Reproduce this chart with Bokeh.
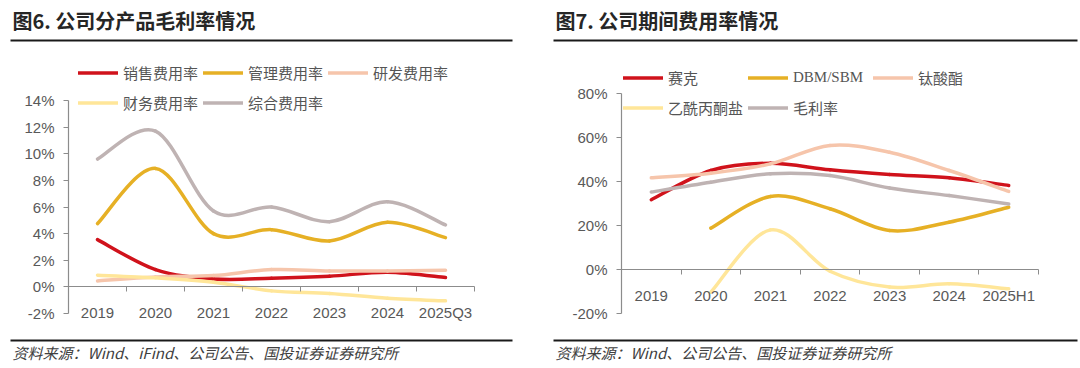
from bokeh.plotting import figure
from bokeh.models import (FixedTicker, Legend, LegendItem, Label, Arrow, ColumnDataSource,
                          Range1d, CustomJSTickFormatter)
from bokeh.layouts import row
from bokeh.embed import file_html
from bokeh.resources import INLINE

# ---------------- data ----------------
years_left = ["2019", "2020", "2021", "2022", "2023", "2024", "2025Q3"]
sales_rate = [3.55, 1.3, 0.6, 0.65, 0.8, 1.1, 0.7]
admin_rate = [4.75, 8.9, 4.0, 4.3, 3.45, 4.85, 3.7]
rnd_rate = [0.45, 0.75, 0.85, 1.3, 1.2, 1.2, 1.25]
fin_rate = [0.88, 0.68, 0.35, -0.3, -0.5, -0.85, -1.05]
total_rate = [9.6, 11.7, 5.7, 6.0, 4.9, 6.4, 4.65]
left_names = ["销售费用率", "管理费用率", "研发费用率", "财务费用率", "综合费用率"]
left_ticks = [-2, 0, 2, 4, 6, 8, 10, 12, 14]

years_right = ["2019", "2020", "2021", "2022", "2023", "2024", "2025H1"]
saike = [31.7, 45.0, 48.3, 45.3, 43.2, 41.7, 38.2]
dbm_sbm = [None, 18.8, 33.2, 27.6, 17.7, 21.5, 28.3]
titanate = [41.7, 43.8, 48.0, 56.4, 53.3, 45.0, 35.5]
acac = [None, -10.3, 18.0, -0.8, -8.0, -6.5, -8.8]
gross = [35.2, 39.7, 43.5, 42.7, 37.0, 33.6, 29.8]
right_names = ["赛克", "DBM/SBM", "钛酸酯", "乙酰丙酮盐", "毛利率"]
right_ticks = [-20, 0, 20, 40, 60, 80]

colors = ["#D0121B", "#E6B025", "#F6C5AB", "#FFE699", "#BFB3B3"]

W, H = 540, 368
AXIS_COLOR = "#8C8C8C"
TICK_FONT = "'Liberation Sans', Arial, sans-serif"
CJK = "'Noto Sans CJK SC', sans-serif"
LEGEND_FONT = "'Liberation Serif', 'Noto Sans CJK SC', serif"


def smooth(p, ys, color):
    pts = [(float(i), y) for i, y in enumerate(ys) if y is not None]
    n = len(pts)
    d = dict(x0=[], y0=[], x1=[], y1=[], cx0=[], cy0=[], cx1=[], cy1=[])
    for i in range(n - 1):
        p0 = pts[i - 1] if i > 0 else pts[i]
        p1 = pts[i]
        p2 = pts[i + 1]
        p3 = pts[i + 2] if i + 2 < n else pts[i + 1]
        d["x0"].append(p1[0]); d["y0"].append(p1[1])
        d["x1"].append(p2[0]); d["y1"].append(p2[1])
        d["cx0"].append(p1[0] + (p2[0] - p0[0]) / 6.0)
        d["cy0"].append(p1[1] + (p2[1] - p0[1]) / 6.0)
        d["cx1"].append(p2[0] - (p3[0] - p1[0]) / 6.0)
        d["cy1"].append(p2[1] - (p3[1] - p1[1]) / 6.0)
    return p.bezier("x0", "y0", "x1", "y1", "cx0", "cy0", "cx1", "cy1",
                    source=ColumnDataSource(d), line_color=color, line_width=3.5,
                    line_cap="round")


def pix_range(v0, p0, v1, p1, total):
    k = (v1 - v0) / (p1 - p0)
    return v0 - k * p0, v0 + k * (total - p0)


def make_panel(title, source, xlabels, series, names, ticks,
               frame_left, frame_right, frame_top, frame_bottom,
               legend_loc, rule_x0, rule_x1, text_x):
    n = len(xlabels)
    x0, x1 = pix_range(-0.5, frame_left, n - 0.5, frame_right, W)
    ymin, ymax = ticks[0], ticks[-1]
    ytop, ybot = pix_range(ymax, frame_top, ymin, frame_bottom, H)
    p = figure(width=W, height=H, output_backend="svg", toolbar_location=None,
               title_location=None,
               x_range=Range1d(x0, x1), y_range=Range1d(ybot, ytop))
    p.min_border = 0
    p.min_border_left = 0
    p.min_border_right = 0
    p.min_border_top = 0
    p.min_border_bottom = 0
    p.outline_line_color = None
    p.xgrid.visible = False
    p.ygrid.visible = False
    p.background_fill_color = "white"
    p.border_fill_color = "white"

    xa = p.xaxis[0]
    xa.ticker = FixedTicker(ticks=list(range(n)),
                            minor_ticks=[i - 0.5 for i in range(n + 1)])
    xa.formatter = CustomJSTickFormatter(args=dict(labels=xlabels),
                                         code="const i = Math.round(tick); return (i >= 0 && i < labels.length) ? labels[i] : '';")
    xa.fixed_location = 0
    xa.bounds = (-0.5, n - 0.5)
    xa.axis_line_color = AXIS_COLOR
    xa.axis_line_width = 1.2
    xa.major_tick_line_color = None
    xa.major_tick_out = 0
    xa.major_tick_in = 0
    xa.minor_tick_line_color = AXIS_COLOR
    xa.minor_tick_in = 0
    xa.minor_tick_out = 5
    xa.major_label_standoff = 12
    xa.major_label_text_font = TICK_FONT
    xa.major_label_text_font_size = "15px"
    xa.major_label_text_color = "#595959"

    ya = p.yaxis[0]
    ya.ticker = FixedTicker(ticks=ticks)
    ya.formatter = CustomJSTickFormatter(code="return tick.toFixed(0) + '%';")
    ya.fixed_location = -0.5
    ya.bounds = (ymin, ymax)
    ya.axis_line_color = AXIS_COLOR
    ya.axis_line_width = 1.2
    ya.major_tick_line_color = AXIS_COLOR
    ya.major_tick_in = 0
    ya.major_tick_out = 5
    ya.minor_tick_line_color = None
    ya.major_label_standoff = 9
    ya.major_label_text_font = TICK_FONT
    ya.major_label_text_font_size = "15px"
    ya.major_label_text_color = "#595959"

    rends = [smooth(p, ys, c) for ys, c in zip(series, colors)]

    legend = Legend(items=[LegendItem(label=nm, renderers=[r]) for nm, r in zip(names, rends)],
                    location=legend_loc, orientation="horizontal", ncols=3,
                    border_line_color=None, background_fill_alpha=0,
                    padding=0, margin=0, spacing=3,
                    glyph_width=40, glyph_height=27, label_height=27, label_width=77,
                    label_standoff=5, label_text_font=LEGEND_FONT,
                    label_text_font_size="15px", label_text_color="#555555")
    legend.click_policy = "none"
    p.add_layout(legend)

    # title, rules, source (screen units from canvas bottom-left)
    p.add_layout(Label(x=text_x, y=H - 20, x_units="screen", y_units="screen",
                       text=title, text_font=CJK, text_font_size="20px",
                       text_font_style="bold", text_color="#262626", text_baseline="middle"))
    p.add_layout(Arrow(end=None, x_start=rule_x0, x_end=rule_x1,
                       y_start=H - 40, y_end=H - 40,
                       start_units="screen", end_units="screen",
                       line_color="#1a1a1a", line_width=2))
    p.add_layout(Arrow(end=None, x_start=rule_x0, x_end=rule_x1,
                       y_start=H - 340, y_end=H - 340,
                       start_units="screen", end_units="screen",
                       line_color="#1a1a1a", line_width=2))
    p.add_layout(Label(x=text_x, y=H - 352, x_units="screen", y_units="screen",
                       text=source, text_font=CJK, text_font_size="15px",
                       text_font_style="italic", text_color="#404040", text_baseline="middle"))
    return p


p1 = make_panel("图6. 公司分产品毛利率情况", "资料来源：Wind、iFind、公司公告、国投证券证券研究所",
                years_left, [sales_rate, admin_rate, rnd_rate, fin_rate, total_rate],
                left_names, left_ticks,
                68, 474, 100, 313, (78, 252.5), 10, 512, 12)
p2 = make_panel("图7. 公司期间费用率情况", "资料来源：Wind、公司公告、国投证券证券研究所",
                years_right, [saike, dbm_sbm, titanate, acac, gross],
                right_names, right_ticks,
                81, 498, 93, 313, (83, 247.5), 13, 537, 15)

layout = row(p1, p2)
open("out.html", "w").write(file_html(layout, INLINE))
